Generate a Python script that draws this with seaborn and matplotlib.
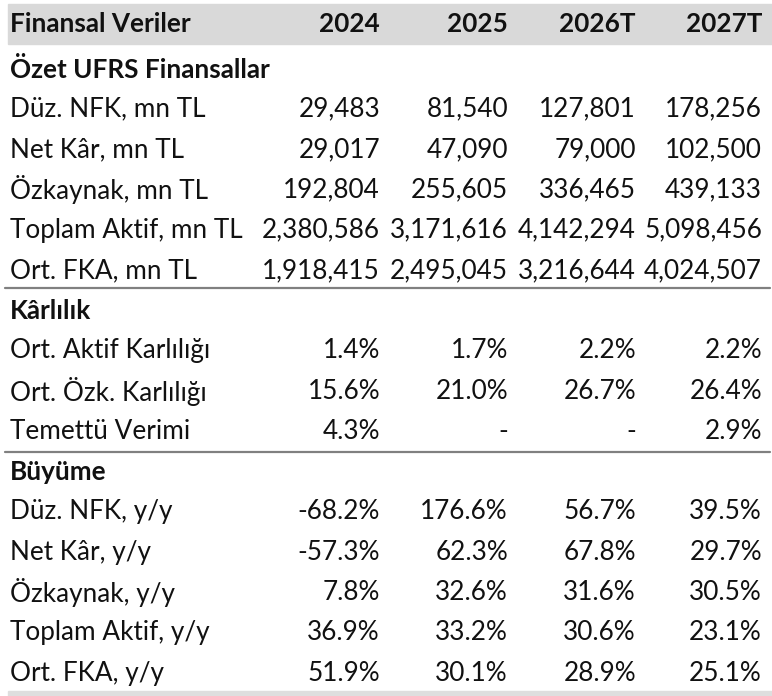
import matplotlib
matplotlib.use('Agg')
from matplotlib import pyplot as plt
import seaborn as sns

sns.set_style('white')
plt.rcParams['font.family'] = ['Lato', 'DejaVu Sans']

years = ['2024', '2025', '2026T', '2027T']

summary_labels = ['Düz. NFK, mn TL', 'Net Kâr, mn TL', 'Özkaynak, mn TL',
                  'Toplam Aktif, mn TL', 'Ort. FKA, mn TL']
nfk = [29483, 81540, 127801, 178256]
net_kar = [29017, 47090, 79000, 102500]
ozkaynak = [192804, 255605, 336465, 439133]
toplam_aktif = [2380586, 3171616, 4142294, 5098456]
ort_fka = [1918415, 2495045, 3216644, 4024507]

profit_labels = ['Ort. Aktif Karlılığı', 'Ort. Özk. Karlılığı', 'Temettü Verimi']
roa = [1.4, 1.7, 2.2, 2.2]
roe = [15.6, 21.0, 26.7, 26.4]
div_yield = [4.3, None, None, 2.9]

growth_labels = ['Düz. NFK, y/y', 'Net Kâr, y/y', 'Özkaynak, y/y',
                 'Toplam Aktif, y/y', 'Ort. FKA, y/y']
nfk_g = [-68.2, 176.6, 56.7, 39.5]
net_kar_g = [-57.3, 62.3, 67.8, 29.7]
ozkaynak_g = [7.8, 32.6, 31.6, 30.5]
aktif_g = [36.9, 33.2, 30.6, 23.1]
fka_g = [51.9, 30.1, 28.9, 25.1]


def fmt_num(v):
    return '{:,}'.format(v)


def fmt_pct(v):
    return '-' if v is None else '{:.1f}%'.format(v)


# rows: (label, values, bold, formatter)
rows = [('Finansal Veriler', years, True, str),
        ('Özet UFRS Finansallar', None, True, None)]
for lab, vals in zip(summary_labels, [nfk, net_kar, ozkaynak, toplam_aktif, ort_fka]):
    rows.append((lab, vals, False, fmt_num))
rows.append(('Kârlılık', None, True, None))
for lab, vals in zip(profit_labels, [roa, roe, div_yield]):
    rows.append((lab, vals, False, fmt_pct))
rows.append(('Büyüme', None, True, None))
for lab, vals in zip(growth_labels, [nfk_g, net_kar_g, ozkaynak_g, aktif_g, fka_g]):
    rows.append((lab, vals, False, fmt_pct))

W, H = 772, 696
fig = plt.figure(figsize=(W / 100, H / 100), dpi=100)
ax = fig.add_axes([0, 0, 1, 1])
ax.set_xlim(0, W)
ax.set_ylim(H, 0)
ax.axis('off')

col_right = [380, 508, 636, 762]
label_x = 10
fs = 18.8


def row_y(i):
    return 24 if i == 0 else 69 + 40.27 * (i - 1)


# header band and bottom band
ax.axhspan(4, 44, xmin=8 / W, xmax=1, color='#d9d9d9', zorder=0)
ax.axhspan(691, 696, xmin=8 / W, xmax=1, color='#dedede', zorder=0)

for i, (lab, vals, bold, f) in enumerate(rows):
    y = row_y(i)
    weight = 'bold' if bold else 'normal'
    ax.text(label_x, y, lab, fontsize=fs, fontweight=weight, va='center', ha='left',
            color='#111111')
    if vals is not None:
        for xr, v in zip(col_right, vals):
            ax.text(xr, y, f(v), fontsize=fs, fontweight=weight, va='center', ha='right',
                    color='#111111')

# section separators
for y in [288, 452]:
    ax.plot([5, 770], [y, y], color='#808080', lw=1.6)

fig.savefig('out.png', dpi=100)
